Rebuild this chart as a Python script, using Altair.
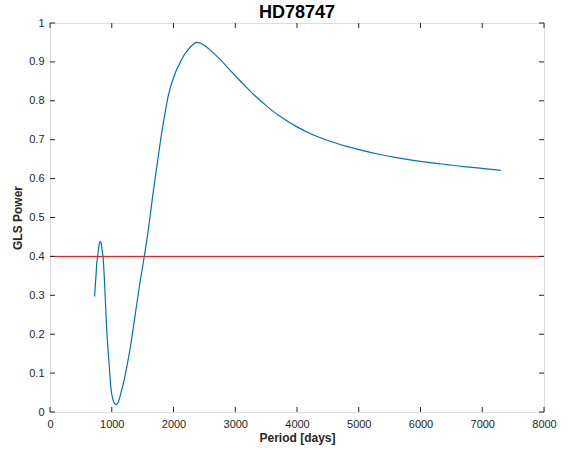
import altair as alt
import pandas as pd

# GLS periodogram of HD78747
period = [723, 735, 745, 758, 772, 790, 805, 821, 835, 848, 858, 878, 907, 918,
          935, 955, 988, 1020, 1050, 1080, 1110, 1150, 1198, 1258, 1296, 1377,
          1457, 1527, 1593, 1663, 1738, 1819, 1870, 1916, 1960, 1997, 2050, 2105,
          2170, 2240, 2310, 2375, 2440, 2520, 2591, 2750, 2915, 3050, 3186, 3320,
          3455, 3590, 3725, 3860, 4000, 4265, 4535, 4805, 5070, 5344, 5610, 5884,
          6150, 6424, 6700, 6964, 7299]
power = [0.297, 0.330, 0.351, 0.385, 0.400, 0.425, 0.436, 0.438, 0.428, 0.412,
         0.400, 0.351, 0.249, 0.213, 0.170, 0.128, 0.059, 0.032, 0.021, 0.019,
         0.027, 0.050, 0.080, 0.128, 0.162, 0.247, 0.333, 0.400, 0.469, 0.555,
         0.640, 0.728, 0.775, 0.813, 0.840, 0.858, 0.880, 0.898, 0.917, 0.932,
         0.944, 0.950, 0.948, 0.940, 0.931, 0.907, 0.879, 0.856, 0.834, 0.813,
         0.794, 0.776, 0.760, 0.746, 0.733, 0.712, 0.696, 0.683, 0.672, 0.662,
         0.654, 0.647, 0.641, 0.636, 0.631, 0.627, 0.621]
threshold = [0.4]
x_ticks = [0, 1000, 2000, 3000, 4000, 5000, 6000, 7000, 8000]
y_ticks = [0, 0.1, 0.2, 0.3, 0.4, 0.5, 0.6, 0.7, 0.8, 0.9, 1]

W, H = 494, 389
FONT = "Liberation Sans"
AX = "#262626"

xscale = alt.Scale(domain=[0, 8000], nice=False, zero=False)
yscale = alt.Scale(domain=[0, 1], nice=False, zero=False)

xaxis = alt.Axis(values=x_ticks, format="d", title="Period [days]",
                 ticks=False, domain=False, grid=False,
                 labelPadding=6, labelFontSize=11, labelColor=AX,
                 labelFont=FONT, titleFont=FONT, titleFontSize=12,
                 titleFontWeight="bold", titleColor=AX, titlePadding=3,
                 labelFlush=False)
yaxis = alt.Axis(values=y_ticks, format="~g", title="GLS Power",
                 ticks=False, domain=False, grid=False,
                 labelPadding=6, labelFontSize=11, labelColor=AX,
                 labelFont=FONT, titleFont=FONT, titleFontSize=12,
                 titleFontWeight="bold", titleColor=AX, titlePadding=4,
                 labelFlush=False)

X = lambda: alt.X("period:Q", scale=xscale, axis=xaxis)
Y = lambda: alt.Y("power:Q", scale=yscale, axis=yaxis)

curve_df = pd.DataFrame({"period": period, "power": power})
thr_df = pd.DataFrame({"power": threshold})
xt_df = pd.DataFrame({"period": x_ticks})
yt_df = pd.DataFrame({"power": y_ticks})

curve = alt.Chart(curve_df).mark_line(
    color="#0072BD", strokeWidth=1.2, interpolate="monotone"
).encode(x=X(), y=Y())

thr = alt.Chart(thr_df).mark_rule(color="#FF0000", strokeWidth=1).encode(y=Y())

xt_bottom = alt.Chart(xt_df).mark_rule(color=AX, strokeWidth=1).encode(
    x=X(), y=alt.value(H), y2=alt.value(H - 5),
)
xt_top = alt.Chart(xt_df).mark_rule(color=AX, strokeWidth=1).encode(
    x=X(), y=alt.value(0), y2=alt.value(5),
)
yt_left = alt.Chart(yt_df).mark_rule(color=AX, strokeWidth=1).encode(
    y=Y(), x=alt.value(0), x2=alt.value(5),
)
yt_right = alt.Chart(yt_df).mark_rule(color=AX, strokeWidth=1).encode(
    y=Y(), x=alt.value(W), x2=alt.value(W - 5),
)

chart = alt.layer(curve, thr, xt_bottom, xt_top, yt_left, yt_right).properties(
    width=W, height=H,
    title=alt.TitleParams("HD78747", font=FONT, fontSize=18, fontWeight="bold",
                          color="black", anchor="middle", offset=1, dy=6),
    autosize=alt.AutoSizeParams(type="none"),
    padding={"left": 50, "top": 23, "right": 24, "bottom": 38},
).configure_view(stroke=AX, strokeWidth=1).configure(background="white")

chart.save("out.html", embed_options={"renderer": "svg", "actions": False})
